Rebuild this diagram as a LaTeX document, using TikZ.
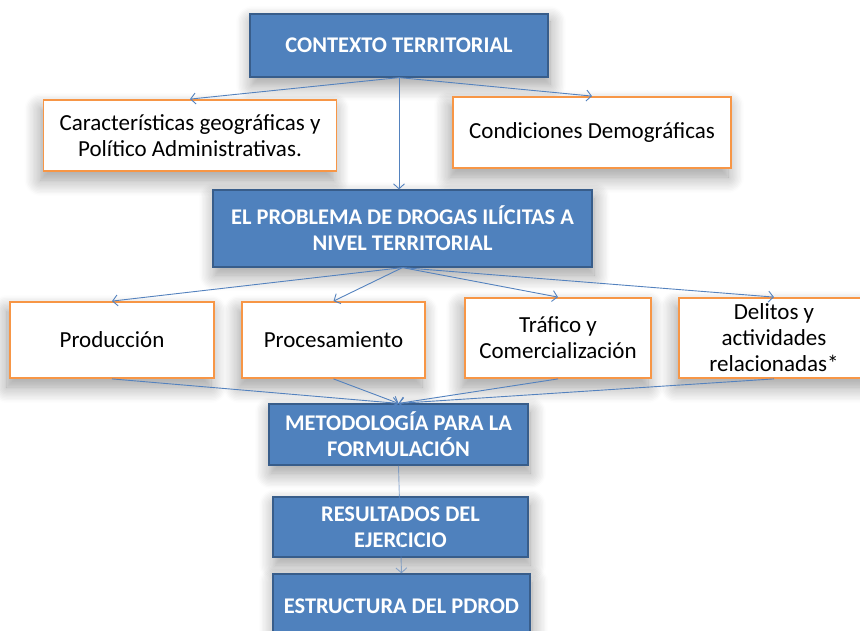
\documentclass[tikz,border=0pt]{standalone}
\usepackage{fontspec}
\setmainfont{Carlito}
\usepackage{xcolor}
\usetikzlibrary{arrows.meta, shadows.blur}
\definecolor{boxblue}{RGB}{79,129,189}
\definecolor{boxedge}{RGB}{56,93,138}
\definecolor{boxorange}{RGB}{247,150,70}
\definecolor{linkblue}{RGB}{84,130,190}

\begin{document}
\begin{tikzpicture}[x=1pt, y=-1pt,
    bluebox/.style={draw=boxedge, line width=1.2pt, fill=boxblue, text=white, align=center, inner sep=0pt,
      font=\fontsize{22.4}{26}\selectfont\bfseries,
      blur shadow={shadow xshift=2pt, shadow yshift=-8pt, shadow blur radius=16pt, shadow blur steps=12, shadow opacity=40}},
    whitebox/.style={draw=boxorange, line width=1.8pt, fill=white, align=center, inner sep=0pt,
      font=\fontsize{23}{26}\selectfont,
      blur shadow={shadow xshift=-3pt, shadow yshift=-9pt, shadow blur radius=16pt, shadow blur steps=12, shadow opacity=40}},
    link/.style={draw=linkblue, line width=0.9pt, -{Straight Barb[length=5pt, width=11pt]}}]
    \useasboundingbox (0,0) rectangle (860,631);
    \clip (0,0) rectangle (860,631);

    % Contexto
    \node[bluebox, minimum width=298pt, minimum height=63pt] (ctx) at (399,45.5) {CONTEXTO TERRITORIAL};
    \node[whitebox, minimum width=293pt, minimum height=71pt] (geo) at (190,135.5) {Características geográficas y\\Político Administrativas.};
    \node[whitebox, minimum width=278pt, minimum height=71pt] (demo) at (592,132.5) {Condiciones Demográficas};

    % Problema
    \node[bluebox, minimum width=379pt, minimum height=77pt] (prob) at (402.5,228.5) {EL PROBLEMA DE DROGAS ILÍCITAS A\\NIVEL TERRITORIAL};

    % Componentes
    \node[whitebox, minimum width=204pt, minimum height=76pt] (prod) at (112,340) {Producción};
    \node[whitebox, minimum width=183pt, minimum height=76pt] (proc) at (333.5,340) {Procesamiento};
    \node[whitebox, minimum width=186pt, minimum height=80pt] (traf) at (558,338) {Tráfico y\\Comercialización};
    \node[whitebox, minimum width=190pt, minimum height=80pt] (deli) at (774,338) {Delitos y\\actividades\\relacionadas*};

    % Metodologia y resultados
    \node[bluebox, minimum width=259pt, minimum height=61pt] (meto) at (398.5,434.5) {METODOLOGÍA PARA LA\\FORMULACIÓN};
    \node[bluebox, minimum width=255pt, minimum height=60pt] (resu) at (400.5,527) {RESULTADOS DEL\\EJERCICIO};
    \node[bluebox, minimum width=257pt, minimum height=64pt] (estr) at (401.5,606) {ESTRUCTURA DEL PDROD};

    % Conectores
    \draw[link] (ctx.south) -- (geo.north);
    \draw[link] (ctx.south) -- (demo.north);
    \draw[link] (ctx.south) -- (ctx.south |- prob.north);
    \draw[link] (prob.south) -- (prod.north);
    \draw[link] (prob.south) -- (proc.north);
    \draw[link] (prob.south) -- (traf.north);
    \draw[link] (prob.south) -- (deli.north);
    \draw[link] (prod.south) -- (meto.north);
    \draw[link] (proc.south) -- (meto.north);
    \draw[link] (traf.south) -- (meto.north);
    \draw[link] (deli.south) -- (meto.north);
    \draw[link, draw opacity=0.6] (meto.south) -- (estr.north);
\end{tikzpicture}
\end{document}
